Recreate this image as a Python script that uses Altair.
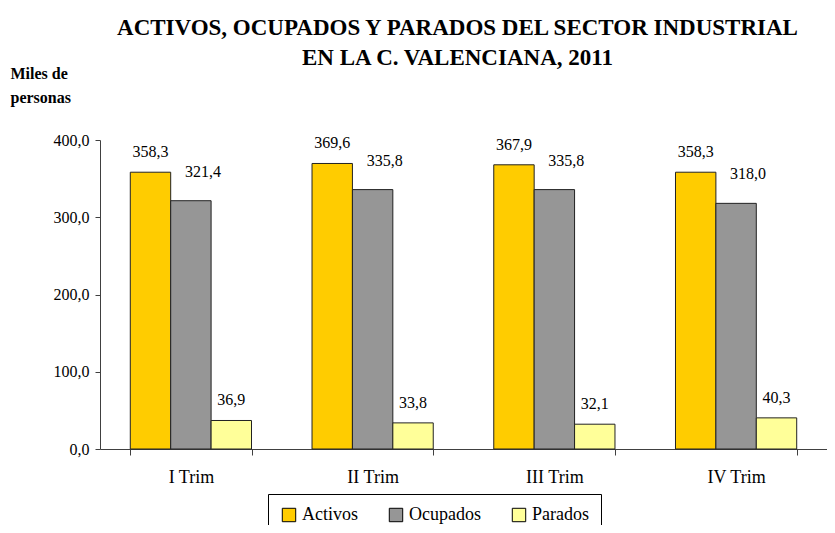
import altair as alt
import pandas as pd

trimestres = ["I Trim", "II Trim", "III Trim", "IV Trim"]
series = ["Activos", "Ocupados", "Parados"]
activos = [358.3, 369.6, 367.9, 358.3]
ocupados = [321.4, 335.8, 335.8, 318.0]
parados = [36.9, 33.8, 32.1, 40.3]
colores = ["#FFCC00", "#969696", "#FFFF99"]
y_ticks = [0, 100, 200, 300, 400]

rows = []
for i, t in enumerate(trimestres):
    for s, vals in zip(series, [activos, ocupados, parados]):
        rows.append({"trim": t, "serie": s, "valor": vals[i]})
df = pd.DataFrame(rows)

FONT = "'Liberation Serif', 'Times New Roman', serif"
AXC = "#404040"

x = alt.X("trim:N", sort=trimestres, title=None,
          scale=alt.Scale(paddingInner=0.333, paddingOuter=0.1667),
          axis=alt.Axis(labelAngle=0, labelFont=FONT, labelFontSize=18, labelColor="black",
                        domainColor=AXC, tickColor=AXC, tickSize=6, tickBand="extent",
                        labelPadding=13))
xoff = alt.XOffset("serie:N", sort=series, scale=alt.Scale(paddingInner=0, paddingOuter=0))
y = alt.Y("valor:Q", scale=alt.Scale(domain=[0, 400], nice=False),
          axis=alt.Axis(values=y_ticks, grid=False,
                        labelExpr="replace(format(datum.value, '.1f'), '.', ',')",
                        labelFont=FONT, labelFontSize=16, labelColor="black",
                        domainColor=AXC, tickColor=AXC, tickSize=5, labelPadding=6,
                        title=["Miles de", "personas"], titleAngle=0, titleAlign="left",
                        titleX=-90, titleY=-62, titleFont=FONT, titleFontSize=16,
                        titleFontWeight="bold", titleLineHeight=24, titleBaseline="alphabetic",
                        titleColor="black"))
color = alt.Color("serie:N", sort=series,
                  scale=alt.Scale(domain=series, range=colores),
                  legend=alt.Legend(orient="none", legendX=168, legendY=354, direction="horizontal",
                                    title=None, strokeColor="black", fillColor="white", padding=12,
                                    symbolType="square", symbolSize=180, symbolStrokeColor="black",
                                    symbolStrokeWidth=1, labelFont=FONT, labelFontSize=18,
                                    labelColor="black", columnPadding=29, labelOffset=4))

base = alt.Chart(df)
bars = base.mark_bar(stroke="#222222", strokeWidth=1).encode(x=x, xOffset=xoff, y=y, color=color)

lbl = base.transform_calculate(lbl="replace(format(datum.valor, '.1f'), '.', ',')")
txt_ap = lbl.transform_filter("datum.serie != 'Ocupados'").mark_text(
    baseline="middle", dy=-20, font=FONT, fontSize=16, color="black"
).encode(x=x, xOffset=xoff, y=y, text="lbl:N")
txt_o = lbl.transform_filter("datum.serie == 'Ocupados'").mark_text(
    baseline="middle", dx=12, dy=-29, font=FONT, fontSize=16, color="black"
).encode(x=x, xOffset=xoff, y=y, text="lbl:N")

chart = alt.layer(bars, txt_ap, txt_o).properties(
    width=727, height=309,
    autosize=alt.AutoSizeParams(type="none"),
    padding={"left": 92, "top": 132, "right": 0, "bottom": 76},
    title=alt.TitleParams(
        text=["ACTIVOS, OCUPADOS Y PARADOS DEL SECTOR INDUSTRIAL", "EN LA C. VALENCIANA, 2011"],
        font=FONT, fontSize=23, fontWeight="bold", color="black", lineHeight=30,
        anchor="middle", frame="group", dx=-6, offset=-5),
    background="white",
).configure_view(stroke=None)

chart.save("out.html", embed_options={"renderer": "svg", "actions": False})
